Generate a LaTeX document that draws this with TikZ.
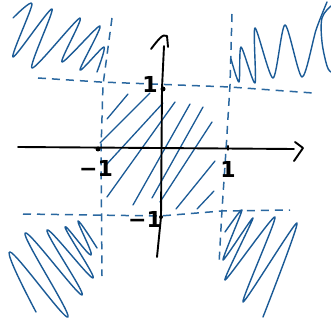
\documentclass[tikz,border=0pt]{standalone}
\usepackage{fontspec}
\setmainfont{DejaVu Sans}
\definecolor{ink}{HTML}{1A5A96}
\definecolor{dash}{HTML}{2A68A0}
\begin{document}
\begin{tikzpicture}[x=1pt,y=-1pt,
  scrib/.style={draw=ink, line width=1.4pt, line cap=round, line join=round},
  hatch/.style={draw=ink, line width=1.3pt, line cap=round},
  guide/.style={draw=dash, line width=1.5pt, dash pattern=on 8pt off 6pt},
  axis/.style={draw=black, line width=1.9pt, line cap=round, line join=round},
  lbl/.style={font=\fontsize{22}{24}\selectfont\bfseries, inner sep=0pt, text=black},
  dot/.style={circle, fill=black, inner sep=0pt, minimum size=5pt}]
\useasboundingbox (0,0) rectangle (331,320);
\fill[white] (0,0) rectangle (331,320);

% dashed guide lines
\draw[guide] (38,78) -- (100,82) -- (230,87) -- (313,93);
\draw[guide] (23,214) -- (160,216) -- (222,211) -- (290,210);
\draw[guide] (112,18) -- (103,85) -- (101,150) -- (102,276);
\draw[guide] (232,14) -- (230,85) -- (226,150) -- (222,210) -- (219,264);

% corner scribbles
\draw[scrib] plot[smooth, tension=0.5] coordinates {
  (13,18) (32,4) (13,57) (52,9) (32,68) (80,18) (62,62) (100,26) (80,70) (104,47) (97,72)};
\draw[scrib] plot[smooth, tension=0.45] coordinates {
  (231,59) (239,82) (241,47) (255,83) (255,28) (273,78) (285,25) (302,77) (316,30) (327,2)};
\draw[scrib] plot[smooth, tension=0.6] coordinates {
  (331,6) (322,18) (322,42) (327,66) (331,72)};
\draw[scrib] plot[smooth, tension=0.75] coordinates {
  (36,312) (10,252) (68,317) (25,233) (82,295) (47,230) (93,278) (65,227) (91,255) (78,221) (97,248)};
\draw[scrib] plot[smooth, tension=0.4] coordinates {
  (225,232) (242,210) (223,260) (253,218) (225,280) (275,217) (243,302) (297,223) (263,317)};

% hatching of the square
\draw[hatch] (107,119) -- (128,94);
\draw[hatch] (100,143) -- (150,93);
\draw[hatch] (106,165) -- (163,103);
\draw[hatch] (107,197) -- (175,102);
\draw[hatch] (133,205) -- (190,104);
\draw[hatch] (152,198) -- (203,107);
\draw[hatch] (160,202) -- (212,122);
\draw[hatch] (176,209) -- (215,161);
\draw[hatch] (197,209) -- (214,191);

% axes
\coordinate (xl) at (18,147);
\coordinate (xr) at (294,149);
\coordinate (yb) at (157,257);
\coordinate (yt) at (164,46);
\draw[axis] (xl) -- (xr);
\draw[axis] (295,142) -- (303,148) -- (294,161);
\draw[axis] (yb) -- (161,217) -- (162,88) -- (yt);
\draw[axis] (151,49) .. controls (158,40) and (163,33) .. (167,36) -- (168,47);

% marks
\node[dot] (xm) at (98,149) {};
\node[dot] (ym) at (163,89) {};
\node[draw=black, line width=1.5pt, minimum width=0pt, minimum height=5pt, inner sep=0pt] (xp) at (228,148) {};
\node[dot, minimum size=4pt] (yn) at (161,217) {};

% labels
\node[lbl] (l1) at (150,84) {1};
\node[lbl] (l2) at (96,168) {−1};
\node[lbl] (l3) at (228,169) {1};
\node[lbl] (l4) at (145,219) {−1};
\end{tikzpicture}
\end{document}
